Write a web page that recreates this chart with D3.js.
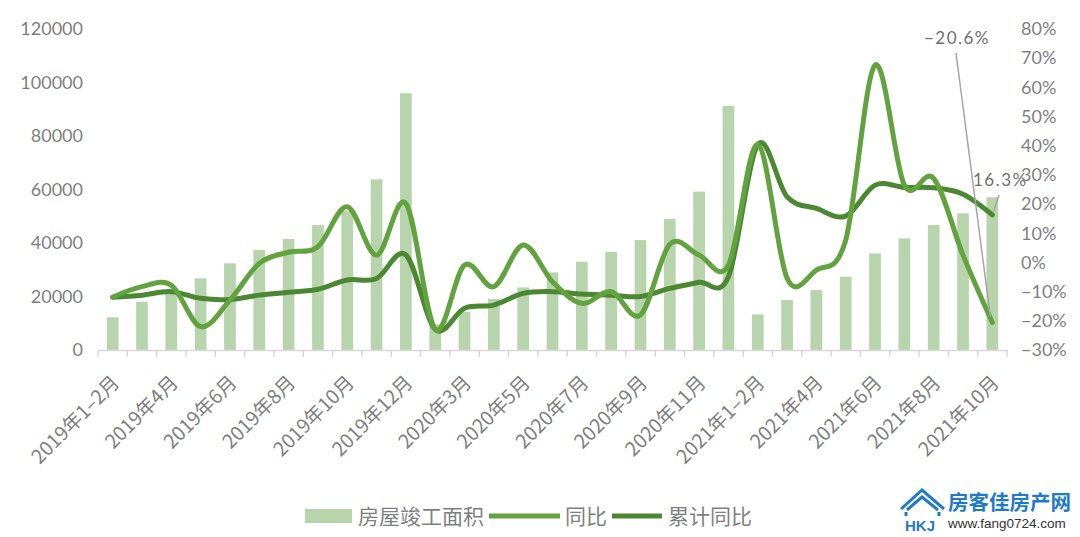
<!DOCTYPE html>
<html>
<head>
<meta charset="utf-8">
<script src="https://cdn.jsdelivr.net/npm/d3@7"></script>
<style>
  body { margin: 0; background: #fff; }
  svg { display: block; }
  .tick text { fill: #7f7f7f; }
</style>
</head>
<body>
<script>
const width = 1080
const height = 537

const categories = [
  '2019年1–2月', '2019年3月', '2019年4月', '2019年5月', '2019年6月', '2019年7月',
  '2019年8月', '2019年9月', '2019年10月', '2019年11月', '2019年12月',
  '2020年1–2月', '2020年3月', '2020年4月', '2020年5月', '2020年6月', '2020年7月',
  '2020年8月', '2020年9月', '2020年10月', '2020年11月', '2020年12月',
  '2021年1–2月', '2021年3月', '2021年4月', '2021年5月', '2021年6月', '2021年7月',
  '2021年8月', '2021年9月', '2021年10月'
]
// 房屋竣工面积 (万平方米)
const area = [
  12200, 18000, 21300, 26800, 32400, 37400, 41500, 46700, 52000, 63800, 96000,
  9600, 14300, 19100, 23400, 29000, 33000, 36700, 41100, 49000, 59200, 91200,
  13300, 18700, 22400, 27400, 36100, 41700, 46700, 51100, 57100
]
// 同比 (%)
const yoy = [
  -11.9, -8.3, -7.8, -22.0, -12.9, -0.3, 3.5, 5.4, 19.1, 2.5, 20.2,
  -22.9, -0.9, -8.3, 6.0, -6.6, -14.0, -10.0, -18.0, 6.2, 2.5, -0.9,
  40.4, -5.4, -2.6, 7.7, 67.6, 26.5, 28.8, 2.5, -20.6
]
// 累计同比 (%)
const cumYoy = [
  -11.9, -11.2, -10.0, -12.3, -12.7, -11.2, -10.2, -9.2, -6.0, -5.5, 2.6,
  -22.9, -15.7, -14.6, -10.6, -10.0, -10.8, -11.2, -11.7, -8.9, -6.8, -4.9,
  40.4, 22.5, 18.5, 15.9, 26.5, 25.7, 25.6, 23.4, 16.3
]
const leftTicks = [0, 20000, 40000, 60000, 80000, 100000, 120000]
const rightTicks = [-30, -20, -10, 0, 10, 20, 30, 40, 50, 60, 70, 80]
const shownLabels = [
  '2019年1–2月', '2019年4月', '2019年6月', '2019年8月', '2019年10月', '2019年12月',
  '2020年3月', '2020年5月', '2020年7月', '2020年9月', '2020年11月',
  '2021年1–2月', '2021年4月', '2021年6月', '2021年8月', '2021年10月'
]

const barColor = '#b8d4ac'
const yoyColor = '#62a33f'
const cumColor = '#4b8832'
const textColor = '#7f7f7f'
const numFont = 'Lato, "Noto Sans", sans-serif'
const cjkFont = '"Noto Sans CJK SC", "Noto Sans", sans-serif'

const svg = d3.select('body')
  .append('svg')
  .attr('width', width)
  .attr('height', height)

const x = d3.scaleBand()
  .domain(categories)
  .range([98, 1007])
  .paddingInner(0.6)
  .paddingOuter(0.3)
const yLeft = d3.scaleLinear()
  .domain([0, 120000])
  .range([350, 29])
const yRight = d3.scaleLinear()
  .domain([-30, 80])
  .range([350, 29])
const cx = d => x(d) + x.bandwidth() / 2

// bars
svg.append('g')
  .selectAll('rect')
  .data(area)
  .enter()
  .append('rect')
  .attr('x', (d, i) => x(categories[i]))
  .attr('y', d => yLeft(d))
  .attr('width', x.bandwidth())
  .attr('height', d => yLeft(0) - yLeft(d))
  .attr('fill', barColor)

// axes
const leftAxis = svg.append('g')
  .attr('transform', 'translate(90, 0)')
  .call(d3.axisLeft(yLeft).tickValues(leftTicks).tickSize(0).tickPadding(7).tickFormat(d3.format('d')))
leftAxis.select('.domain').remove()
leftAxis.selectAll('text')
  .attr('font-family', numFont)
  .attr('font-size', '18px')

const rightAxis = svg.append('g')
  .attr('transform', 'translate(1007, 0)')
  .call(d3.axisRight(yRight).tickValues(rightTicks).tickSize(0).tickPadding(14)
    .tickFormat(d => (d < 0 ? '−' + (-d) : d) + '%'))
rightAxis.select('.domain').remove()
rightAxis.selectAll('text')
  .attr('font-family', numFont)
  .attr('font-size', '18px')

const bottomAxis = svg.append('g')
  .attr('transform', 'translate(0, 350)')
  .call(d3.axisBottom(x).tickValues(shownLabels).tickSize(0).tickPadding(0))
bottomAxis.select('.domain')
  .attr('stroke', '#d9d9d9')
  .attr('stroke-width', 1.5)
bottomAxis.selectAll('text')
  .attr('font-family', cjkFont)
  .attr('font-size', '19.5px')
  .attr('text-anchor', 'end')
  .attr('y', 0)
  .attr('dy', 0)
  .attr('transform', 'translate(8, 34) rotate(-45)')

// boundary ticks
const bounds = d3.range(categories.length + 1).map(i => x.range()[0] + i * x.step())
svg.append('g')
  .selectAll('line')
  .data(bounds)
  .enter()
  .append('line')
  .attr('x1', d => d)
  .attr('x2', d => d)
  .attr('y1', 350)
  .attr('y2', 357)
  .attr('stroke', '#d9d9d9')
  .attr('stroke-width', 1.5)

// lines
const line = d3.line()
  .x((d, i) => cx(categories[i]))
  .y(d => yRight(d))
  .curve(d3.curveCardinal.tension(0))

svg.append('path')
  .datum(cumYoy)
  .attr('d', line)
  .attr('fill', 'none')
  .attr('stroke', cumColor)
  .attr('stroke-width', 5)
  .attr('stroke-linecap', 'round')
svg.append('path')
  .datum(yoy)
  .attr('d', line)
  .attr('fill', 'none')
  .attr('stroke', yoyColor)
  .attr('stroke-width', 5)
  .attr('stroke-linecap', 'round')

// annotations
const last = categories.length - 1
const lastX = cx(categories[last])
svg.append('line')
  .attr('x1', 956).attr('y1', 53)
  .attr('x2', lastX - 2).attr('y2', yRight(yoy[last]) - 6)
  .attr('stroke', '#a6a6a6').attr('stroke-width', 1.5)
svg.append('text')
  .attr('x', 990).attr('y', 44)
  .attr('text-anchor', 'end')
  .attr('font-family', numFont)
  .attr('font-size', '17px')
  .attr('letter-spacing', '1.5px')
  .attr('fill', '#6f6f6f')
  .text('−20.6%')
svg.append('line')
  .attr('x1', 999).attr('y1', 195)
  .attr('x2', lastX + 1).attr('y2', yRight(cumYoy[last]) - 3)
  .attr('stroke', '#a6a6a6').attr('stroke-width', 1.5)
svg.append('text')
  .attr('x', 973).attr('y', 186)
  .attr('font-family', numFont)
  .attr('font-size', '17px')
  .attr('letter-spacing', '1.5px')
  .attr('fill', '#6f6f6f')
  .text('16.3%')

// legend
const legend = svg.append('g')
  .attr('font-family', cjkFont)
  .attr('font-size', '21px')
  .attr('fill', textColor)
legend.append('rect')
  .attr('x', 305).attr('y', 509).attr('width', 47).attr('height', 14)
  .attr('fill', barColor)
legend.append('text').attr('x', 358).attr('y', 524).text('房屋竣工面积')
legend.append('line')
  .attr('x1', 489).attr('x2', 560).attr('y1', 516).attr('y2', 516)
  .attr('stroke', yoyColor).attr('stroke-width', 5)
legend.append('text').attr('x', 565).attr('y', 524).text('同比')
legend.append('line')
  .attr('x1', 612).attr('x2', 662).attr('y1', 516).attr('y2', 516)
  .attr('stroke', cumColor).attr('stroke-width', 5)
legend.append('text').attr('x', 668).attr('y', 524).text('累计同比')

// watermark
const mark = svg.append('g')
mark.append('path')
  .attr('d', 'M901,509 L922,490 L944,509 M907,510 L922,497 L938,510 M906,512 L906,516 M939,512 L939,516')
  .attr('fill', 'none')
  .attr('stroke', '#1f7bc8')
  .attr('stroke-width', 3)
  .attr('stroke-linejoin', 'miter')
mark.append('text')
  .attr('x', 905).attr('y', 531)
  .attr('font-family', '"Liberation Sans", sans-serif')
  .attr('font-weight', 'bold')
  .attr('font-size', '15px')
  .attr('fill', '#1f7bc8')
  .text('HKJ')
mark.append('text')
  .attr('x', 948).attr('y', 510)
  .attr('font-family', cjkFont)
  .attr('font-weight', 'bold')
  .attr('font-size', '20.5px')
  .attr('fill', '#1f7bc8')
  .text('房客佳房产网')
mark.append('text')
  .attr('x', 948).attr('y', 528)
  .attr('font-family', '"Liberation Sans", sans-serif')
  .attr('font-size', '13.5px')
  .attr('fill', '#333')
  .text('www.fang0724.com')
</script>
</body>
</html>
